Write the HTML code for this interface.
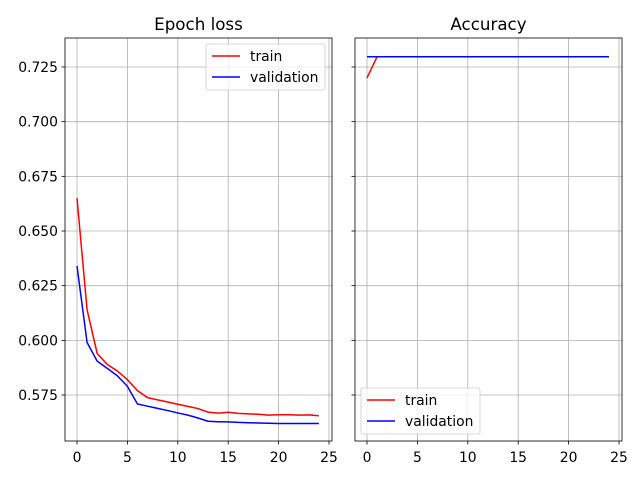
<!DOCTYPE html>
<html><head><meta charset="utf-8"><style>
body{margin:0;background:#fff}
text{font-family:"DejaVu Sans","Liberation Sans",sans-serif;fill:#000}
</style></head><body>
<svg id="chart" width="640" height="480" xmlns="http://www.w3.org/2000/svg"></svg>
<script>
const epochs = [0,1,2,3,4,5,6,7,8,9,10,11,12,13,14,15,16,17,18,19,20,21,22,23,24];
const trainLoss = [0.665,0.614,0.594,0.589,0.586,0.582,0.577,0.5738,0.5728,0.5718,0.5708,0.5698,0.5688,0.5672,0.5667,0.5671,0.5666,0.5664,0.5662,0.5658,0.566,0.566,0.5658,0.5659,0.5655];
const valLoss = [0.634,0.599,0.5905,0.5872,0.5838,0.579,0.5709,0.5699,0.5689,0.5679,0.5668,0.5658,0.5645,0.563,0.5628,0.5627,0.5625,0.5623,0.5622,0.5621,0.562,0.562,0.562,0.562,0.562];
const trainAcc = [0.720,0.7297,0.7297,0.7297,0.7297,0.7297,0.7297,0.7297,0.7297,0.7297,0.7297,0.7297,0.7297,0.7297,0.7297,0.7297,0.7297,0.7297,0.7297,0.7297,0.7297,0.7297,0.7297,0.7297,0.7297];
const valAcc = [0.7297,0.7297,0.7297,0.7297,0.7297,0.7297,0.7297,0.7297,0.7297,0.7297,0.7297,0.7297,0.7297,0.7297,0.7297,0.7297,0.7297,0.7297,0.7297,0.7297,0.7297,0.7297,0.7297,0.7297,0.7297];
const xTicks = [0,5,10,15,20,25];
const yTicks = [0.575,0.600,0.625,0.650,0.675,0.700,0.725];
const yTickLabels = ["0.575","0.600","0.625","0.650","0.675","0.700","0.725"];

const svg = document.getElementById('chart');
const NS = 'http://www.w3.org/2000/svg';
function mk(tag, attrs, parent){const e=document.createElementNS(NS,tag);for(const k in attrs)e.setAttribute(k,attrs[k]);(parent||svg).appendChild(e);return e;}
const axTop=38, axBot=441;
const yv = v => 67 + (0.725 - v) * (54.67/0.025);
const panels = [
 {x0:65, title:'Epoch loss', a:trainLoss, b:valLoss, leg:'tr', name:'loss'},
 {x0:355, title:'Accuracy', a:trainAcc, b:valAcc, leg:'bl', name:'accuracy'}
];
panels.forEach((p,pi)=>{
  const w=267;
  const xs = v => p.x0 + 12 + v*10.08;
  const g = mk('g',{});
  
  
  xTicks.forEach(t=>{
    const l=mk('line',{x1:xs(t),x2:xs(t),y1:axTop,y2:axBot,stroke:'#b0b0b0','stroke-width':0.8},g);
    
    
    mk('line',{x1:xs(t),x2:xs(t),y1:axBot,y2:axBot+3.5,stroke:'#000','stroke-width':0.8},g);
    const tx=mk('text',{x:xs(t),y:axBot+21,'text-anchor':'middle','font-size':13.9},g);tx.textContent=t;
    
    
  });
  yTicks.forEach((t,i)=>{
    const l=mk('line',{x1:p.x0,x2:p.x0+w,y1:yv(t),y2:yv(t),stroke:'#b0b0b0','stroke-width':0.8},g);
    
    
    mk('line',{x1:p.x0-3.5,x2:p.x0,y1:yv(t),y2:yv(t),stroke:'#000','stroke-width':0.8},g);
    if(pi===0){const tx=mk('text',{x:p.x0-7,y:yv(t)+5,'text-anchor':'end','font-size':13.9},g);tx.textContent=yTickLabels[i];
      
      }
  });
  [[p.a,'#ff0000','train'],[p.b,'#0000ff','validation']].forEach(([arr,c,n])=>{
    const pl=mk('polyline',{points:arr.map((v,i)=>xs(epochs[i])+','+yv(v)).join(' '),fill:'none',stroke:c,'stroke-width':1.5},g);
    
    
  });
  const fr=mk('rect',{x:p.x0,y:axTop,width:w,height:axBot-axTop,fill:'none',stroke:'#000','stroke-width':0.8},g);
  
  
  const ti=mk('text',{x:p.x0+w/2,y:axTop-8,'text-anchor':'middle','font-size':16.7},g);ti.textContent=p.title;
  
  
  const lx = p.leg==='tr'? 206 : 361, ly = p.leg==='tr'? 44 : 388;
  const lg=mk('g',{},g);
  
  
  mk('rect',{x:lx,y:ly,width:119,height:46,rx:2,fill:'#fff','fill-opacity':0.8,stroke:'#ccc','stroke-width':0.8},lg);
  [['train','#ff0000'],['validation','#0000ff']].forEach(([n,c],i)=>{
    const yy=ly+12+i*21;
    mk('line',{x1:lx+6,x2:lx+34,y1:yy,y2:yy,stroke:c,'stroke-width':1.5},lg);
    const t=mk('text',{x:lx+44,y:yy+5,'font-size':13.9},lg);t.textContent=n;
    
    
  });
});
</script>
</body></html>
